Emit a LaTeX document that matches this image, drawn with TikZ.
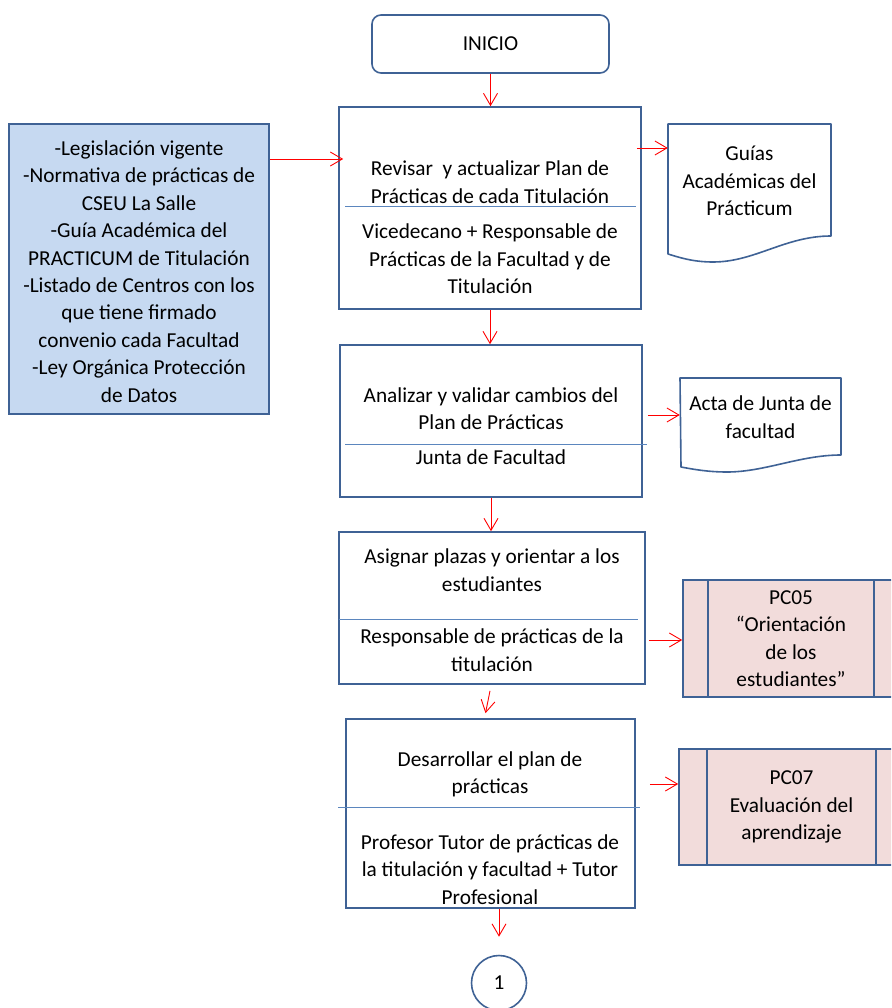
\documentclass[tikz,border=0pt]{standalone}
\usepackage{fontspec}
\setmainfont{Carlito}
\usetikzlibrary{arrows.meta}
\definecolor{borde}{HTML}{3F6295}
\definecolor{linea}{HTML}{5B86BE}
\definecolor{azulclaro}{HTML}{C6D9F1}
\definecolor{rosa}{HTML}{F2DCDB}

\begin{document}
\begin{tikzpicture}[x=1pt,y=-1pt,
    every node/.style={font=\fontsize{21.3}{27.4}\selectfont, align=center, inner sep=0pt},
    caja/.style={draw=borde, line width=1.6pt, minimum width=#1},
    flecha/.style={draw=red, line width=0.9pt, -{Straight Barb[length=12pt,width=14pt]}},
    divisor/.style={draw=linea, line width=0.9pt},
    doc/.style={draw=borde, line width=1.6pt, line join=round}]
                \useasboundingbox (0,0) rectangle (891,1008);
                \clip (0,0) rectangle (891,1008);

                % Inicio
                \node[caja=237pt, minimum height=58pt, rounded corners=9pt] (inicio) at (490.5,44) {INICIO};

                % Entradas
                \node[caja=260pt, minimum height=290pt, fill=azulclaro] (entradas) at (139,269) {};
                \node (entradas-txt) at (139,271.5) {-Legislación vigente\\-Normativa de prácticas de\\CSEU La Salle\\-Guía Académica del\\PRACTICUM de Titulación\\-Listado de Centros con los\\que tiene firmado\\convenio cada Facultad\\-Ley Orgánica Protección\\de Datos};

                % Actividades
                \node[caja=302pt, minimum height=202pt] (revisar) at (490,208) {};
                \node (revisar-txt) at (490,182) {Revisar\ \ y actualizar Plan de\\Prácticas de cada Titulación};
                \node (revisar-resp) at (490,259) {Vicedecano + Responsable de\\Prácticas de la Facultad y de\\Titulación};
                \draw[divisor] (345,206) -- (636,206);

                \node[caja=302pt, minimum height=152pt] (analizar) at (491,421) {};
                \node (analizar-txt) at (491,408.5) {Analizar y validar cambios del\\Plan de Prácticas};
                \node (analizar-resp) at (491,457) {Junta de Facultad};
                \draw[divisor] (345,444) -- (647,444);

                \node[caja=306pt, minimum height=152pt] (asignar) at (492,608) {};
                \node (asignar-txt) at (492,570) {Asignar plazas y orientar a los\\estudiantes};
                \node (asignar-resp) at (492,650) {Responsable de prácticas de la\\titulación};
                \draw[divisor] (339,619) -- (638,619);

                \node[caja=289pt, minimum height=189pt] (desarrollar) at (490.5,813.5) {};
                \node (desarrollar-txt) at (490,774.5) {Desarrollar el plan de\\prácticas};
                \node (desarrollar-resp) at (490,869.5) {Profesor Tutor de prácticas de\\la titulación y facultad + Tutor\\Profesional};
                \draw[divisor] (338,807) -- (640,807);

                % Documentos
                \draw[doc] (668,124) -- (831,124) -- (831,236)
                    .. controls (785,236) and (755,262) .. (713,262)
                    .. controls (692,262) and (678,257) .. (668,254) -- cycle;
                \node[minimum width=163pt] (guias) at (749.5,181) {Guías\\Académicas del\\Prácticum};

                \draw[doc] (680,378) -- (841,378) -- (841,455)
                    .. controls (800,455) and (765,472) .. (727,472)
                    .. controls (707,472) and (692,469) .. (681,467) -- cycle;
                \node[minimum width=161pt] (acta) at (760.5,417) {Acta de Junta de\\facultad};

                % Procesos relacionados
                \node[caja=216pt, minimum height=117pt, fill=rosa] (pc05) at (791,638.5) {PC05\\“Orientación\\de los\\estudiantes”};
                \draw[draw=borde, line width=1.6pt] ([xshift=26pt]pc05.north west) -- ([xshift=26pt]pc05.south west);
                \draw[draw=borde, line width=1.6pt] ([xshift=-26pt]pc05.north east) -- ([xshift=-26pt]pc05.south east);

                \node[caja=225pt, minimum height=116pt, fill=rosa] (pc07) at (791.5,807) {PC07\\Evaluación del\\aprendizaje};
                \draw[draw=borde, line width=1.6pt] ([xshift=29pt]pc07.north west) -- ([xshift=29pt]pc07.south west);
                \draw[draw=borde, line width=1.6pt] ([xshift=-29pt]pc07.north east) -- ([xshift=-29pt]pc07.south east);

                % Conector
                \node[draw=borde, line width=1.6pt, circle, minimum size=55pt] (uno) at (499,983) {1};

                % Flechas
                \draw[flecha] (inicio.south) -- (inicio.south |- revisar.north);
                \draw[flecha] (entradas.east |- 0,159) -- ([xshift=5pt]revisar.west |- 0,159);
                \draw[flecha] ([xshift=-5pt]revisar.east |- 0,148) -- (guias.west |- 0,148);
                \draw[flecha] (revisar.south) -- (revisar.south |- analizar.north);
                \draw[flecha] ([xshift=5pt]analizar.east |- 0,415) -- (acta.west |- 0,415);
                \draw[flecha] (analizar.south) -- (analizar.south |- asignar.north);
                \draw[flecha] ([xshift=3pt]asignar.east |- 0,640) -- (pc05.west |- 0,640);
                \draw[flecha] ([xshift=-2pt,yshift=-6pt]asignar.south) -- ([xshift=-5pt,yshift=5pt]desarrollar.north);
                \draw[flecha] ([xshift=14pt]desarrollar.east |- 0,784) -- (pc07.west |- 0,784);
                \draw[flecha] (desarrollar.south -| uno) -- ([yshift=18pt]uno.north);
            \end{tikzpicture}
\end{document}
